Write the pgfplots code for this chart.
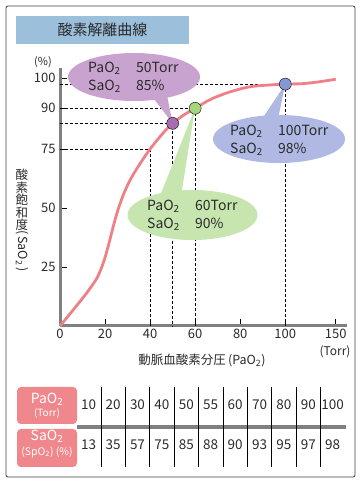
\documentclass[border=0pt]{standalone}
\usepackage{fontspec}
\setmainfont{Noto Sans CJK JP}
\usepackage{pgfplots}
\pgfplotsset{compat=1.18}
\definecolor{curve}{HTML}{F08088}
\definecolor{axisgray}{HTML}{808080}
\definecolor{titlebg}{HTML}{9CC0DC}
\definecolor{pinkbox}{HTML}{F0878D}
\definecolor{purpE}{HTML}{C9A3CF}
\definecolor{purpD}{HTML}{A76CB1}
\definecolor{greenE}{HTML}{C7E5AF}
\definecolor{greenD}{HTML}{A6D77D}
\definecolor{blueE}{HTML}{AFB9E3}
\definecolor{blueD}{HTML}{8598D6}
\definecolor{txt}{HTML}{2A2A2A}
\newcommand{\s}[1]{\textsubscript{#1}}
\begin{document}
\begin{tikzpicture}[x=1pt,y=1pt]
\path[use as bounding box] (0,0) rectangle (361,483);
\draw[black!75, line width=0.8pt, rounded corners=2pt] (6,6) rectangle (355,477);
% title
\fill[titlebg] (16,439) rectangle (189,467);
\node[font=\fontsize{15}{18}\selectfont, text=txt] at (102.5,453) {酸素解離曲線};
\begin{axis}[
  at={(60pt,157pt)}, anchor=south west,
  scale only axis, width=286.8pt, height=258pt,
  % the printed scale is broken: above 100 Torr and above 82 % it is drawn compressed / stretched
  x filter/.expression={x>100 ? 100+(x-100)*0.448 : x},
  y filter/.expression={y>82 ? 82+(y-82)*1.28 : y},
  xmin=0, xmax=127.3, ymin=0, ymax=109.3,
  axis x line=bottom, axis y line=left,
  axis line style={axisgray, line width=3pt, -},
  tick style={black, line width=0.6pt},
  tick align=inside, major tick length=7pt,
  xtick={0,20,40,60,80,100,122.4}, xticklabels={0,20,40,60,80,100,150},
  ytick={25,50,75,92.24,105.04}, yticklabels={25,50,75,90,100},
  tick label style={font=\fontsize{13}{15}\selectfont, text=txt},
  yticklabel style={xshift=-1pt},
  clip=false,
]
\addplot[black, line width=0.7pt, dash pattern=on 3pt off 2pt] coordinates {(0,75) (40,75) (40,0)};
\addplot[black, line width=0.7pt, dash pattern=on 3pt off 2pt] coordinates {(0,85) (50,85) (50,0)};
\addplot[black, line width=0.7pt, dash pattern=on 3pt off 2pt] coordinates {(0,90) (60,90) (60,0)};
\addplot[black, line width=0.7pt, dash pattern=on 3pt off 2pt] coordinates {(0,98) (100,98) (100,0)};
\addplot[curve, line width=2.8pt, smooth] coordinates {
 (0,0) (6,7) (12,14.2) (16.5,20.5) (19.5,27.5) (22,36) (24,43.5) (26,50) (28.5,56.5)
 (31.5,62.5) (35,68) (40,75) (46,82) (50,85) (55,87.8) (60,90) (67,93) (75,95.3) (85,97.2)
 (100,98) (115,98.1) (130,98.6) (150,99.6)};
\fill[purpE] (rel axis cs:0.2580,0.9651) ellipse [x radius=66pt, y radius=24pt];
\fill[purpE] (rel axis cs:0.3173,0.8953) -- (rel axis cs:0.3731,0.8953) -- (rel axis cs:0.3927,0.7853) -- cycle;
\fill[greenE] (rel axis cs:0.4620,0.4302) ellipse [x radius=65pt, y radius=25pt];
\fill[greenE] (rel axis cs:0.3487,0.5039) -- (rel axis cs:0.4219,0.5039) -- (rel axis cs:0.4707,0.8437) -- cycle;
\fill[blueE] (rel axis cs:0.7636,0.7248) ellipse [x radius=66pt, y radius=24pt];
\fill[blueE] (rel axis cs:0.7043,0.8023) -- (rel axis cs:0.7601,0.8023) -- (rel axis cs:0.7855,0.9374) -- cycle;
\addplot[only marks, mark=*, mark size=6pt, mark options={draw=none, fill=purpD}] coordinates {(50,85)};
\addplot[only marks, mark=*, mark size=6pt, mark options={draw=none, fill=greenD}] coordinates {(60,90)};
\addplot[only marks, mark=*, mark size=6pt, mark options={draw=none, fill=blueD}] coordinates {(100,98)};
\end{axis}
% callout texts
\node[anchor=west, inner sep=0pt, align=left, font=\fontsize{14}{18}\selectfont, text=txt] at (88,406)
  {\makebox[48pt][l]{PaO\s{2}}50Torr\\\makebox[48pt][l]{SaO\s{2}}85\%};
\node[anchor=west, inner sep=0pt, align=left, font=\fontsize{14}{18}\selectfont, text=txt] at (147,267.5)
  {\makebox[48pt][l]{PaO\s{2}}60Torr\\\makebox[48pt][l]{SaO\s{2}}90\%};
\node[anchor=west, inner sep=0pt, align=left, font=\fontsize{14}{18}\selectfont, text=txt] at (230,343)
  {\makebox[48pt][l]{PaO\s{2}}100Torr\\\makebox[48pt][l]{SaO\s{2}}98\%};
% axis labels
\node[font=\fontsize{11}{13}\selectfont, text=txt] at (43,421) {(\%)};
\node[font=\fontsize{12}{14}\selectfont, text=txt] at (335,131) {(Torr)};
\node[font=\fontsize{12.5}{15}\selectfont, text=txt] at (202,123) {動脈血酸素分圧\,(PaO\s{2})};
\node[font=\fontsize{12.5}{12.6}\selectfont, text=txt, align=center, inner sep=0pt] at (22,283) {酸\\素\\飽\\和\\度};
\node[font=\fontsize{12.5}{15}\selectfont, text=txt, rotate=-90] at (22,232) {(\,SaO\s{2}\,)};
% table
\fill[pinkbox, rounded corners=4pt] (17,59) rectangle (77,96);
\fill[pinkbox, rounded corners=4pt] (17,16) rectangle (77,54);
\draw[axisgray, line width=4pt] (77,56) -- (346,56);
\foreach \k in {1,...,10} {
  \draw[black, line width=0.8pt] ({76.5+24.4*\k},16) -- ({76.5+24.4*\k},96);
}
\foreach \v [count=\i from 0] in {10,20,30,40,50,55,60,70,80,90,100} {
  \node[font=\fontsize{13.5}{15}\selectfont, text=txt] at ({76.5+24.4*(\i+0.5)},78) {\v};
}
\foreach \v [count=\i from 0] in {13,35,57,75,85,88,90,93,95,97,98} {
  \node[font=\fontsize{13.5}{15}\selectfont, text=txt] at ({76.5+24.4*(\i+0.5)},38) {\v};
}
\node[font=\fontsize{14}{16}\selectfont, text=white] at (47,84) {PaO\s{2}};
\node[font=\fontsize{10}{12}\selectfont, text=white] at (47,70) {(Torr)};
\node[font=\fontsize{14}{16}\selectfont, text=white] at (47,47) {SaO\s{2}};
\node[font=\fontsize{10.5}{12}\selectfont, text=white] at (47,31) {(SpO\s{2}) (\%)};
\end{tikzpicture}
\end{document}
